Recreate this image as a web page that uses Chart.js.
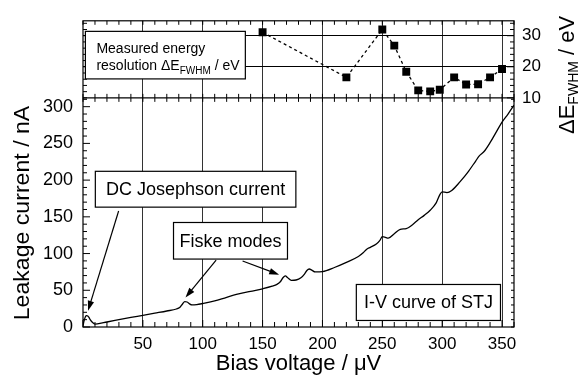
<!DOCTYPE html>
<html><head><meta charset="utf-8">
<script src="https://cdn.jsdelivr.net/npm/chart.js@4/dist/chart.umd.min.js"></script>
<style>html,body{margin:0;padding:0;background:#fff;overflow:hidden}canvas{display:block}</style>
</head><body>
<canvas id="c" width="583" height="375" style="width:583px;height:375px"></canvas>
<script>
// ---- data ----
const ivVoltage = [0, 1, 2, 3, 4, 5, 6, 8, 10, 12, 20, 30, 40, 50, 60, 70, 78, 81, 83, 85, 87, 89, 91, 95, 100, 110, 120, 130, 140, 150, 158, 162, 165, 167, 169, 171, 174, 178, 182, 185, 187, 189, 191, 194, 200, 210, 220, 230, 234, 237, 240, 245, 248, 250, 252, 255, 260, 265, 270, 275, 280, 285, 290, 295, 298, 300, 304, 308, 315, 322, 328, 331, 335, 340, 345, 350, 355, 360];
const ivCurrent = [2, 9, 14, 15.5, 15, 13, 10, 6, 4, 4.2, 6.8, 9.9, 13, 15.8, 18.8, 21.8, 24.5, 27, 31, 34.5, 34, 31.5, 30, 30.5, 32, 35.5, 40.5, 45, 48.5, 52, 55.5, 58, 62, 67, 69.5, 67, 63.5, 64, 67, 72, 77, 79, 77.5, 75, 75.5, 81, 88, 96, 101, 106, 108.5, 113, 118, 123, 122.5, 121, 127, 133, 134, 139, 146, 152, 159, 169, 180, 184, 183, 186, 198, 212, 226, 233, 239, 251, 265, 279, 290, 302];
const resVoltage = [150, 220, 250, 260, 270, 280, 290, 298, 310, 320, 330, 340, 350];
const resEnergy = [31.1, 16.6, 32.0, 26.8, 18.4, 12.4, 12.1, 12.6, 16.6, 14.3, 14.4, 16.6, 19.3];
const xTicks = [0, 50, 100, 150, 200, 250, 300, 350];
const leftTicks = [0, 50, 100, 150, 200, 250, 300];
const rightTicks = [10, 20, 30];

// ---- axis ranges ----
const X_MAX = 360;
const I_MAX = 312;            // top of lower panel (nA)
const E_MIN = 10, E_MAX = 34.8; // upper panel range (eV)
const BOTTOM_FRAC = 234 / 312.7;
const LEFT_MAX = I_MAX / BOTTOM_FRAC;
const RIGHT_MIN = E_MIN - (E_MAX - E_MIN) * BOTTOM_FRAC / (1 - BOTTOM_FRAC);
const FONT = "'Liberation Sans', Arial, Helvetica, sans-serif";
Chart.defaults.font.family = FONT;
Chart.defaults.color = '#000';

const boxes = [
  {text: 'DC Josephson current', x1: 10.3, x2: 177.8, y1: 212, y2: 163.2},
  {text: 'Fiske modes', x1: 75.6, x2: 170.8, y1: 142.3, y2: 92.5},
  {text: 'I-V curve of STJ', x1: 228.3, x2: 348.7, y1: 57.9, y2: 8.9}
];
const arrows = [
  [29.75, 158, 4.2, 22],
  [111.2, 91.2, 85.6, 40],
  [133.3, 89.9, 163.9, 71.2]
];
const resBox = {x1: 2, x2: 135.6, y1: 31.4, y2: 16.1};

function arrow(ctx, x1, y1, x2, y2) {
  const a = Math.atan2(y2 - y1, x2 - x1), L = 10, W = 3.2;
  ctx.beginPath();
  ctx.moveTo(x1, y1);
  ctx.lineTo(x2 - L * 0.8 * Math.cos(a), y2 - L * 0.8 * Math.sin(a));
  ctx.stroke();
  ctx.beginPath();
  ctx.moveTo(x2, y2);
  ctx.lineTo(x2 - L * Math.cos(a) + W * Math.sin(a), y2 - L * Math.sin(a) - W * Math.cos(a));
  ctx.lineTo(x2 - L * Math.cos(a) - W * Math.sin(a), y2 - L * Math.sin(a) + W * Math.cos(a));
  ctx.closePath();
  ctx.fill();
}

const framePlugin = {
  id: 'frame',
  afterDatasetsDraw(chart) {
    const ctx = chart.ctx, a = chart.chartArea;
    const sx = chart.scales.x, sy = chart.scales.y, sr = chart.scales.yR;
    const yd = sr.getPixelForValue(E_MIN);
    ctx.save();
    ctx.strokeStyle = '#000'; ctx.fillStyle = '#000'; ctx.lineWidth = 1.2;
    ctx.strokeRect(a.left, a.top, a.right - a.left, a.bottom - a.top);
    ctx.beginPath(); ctx.moveTo(a.left, yd); ctx.lineTo(a.right, yd); ctx.stroke();
    ctx.lineWidth = 1;
    ctx.beginPath();
    for (let v = 0; v <= X_MAX; v += 10) {
      const px = sx.getPixelForValue(v);
      const maj = v % 50 === 0;
      ctx.moveTo(px, a.bottom); ctx.lineTo(px, a.bottom - (maj ? 7 : 5));
      ctx.moveTo(px, yd); ctx.lineTo(px, yd + 4);
      ctx.moveTo(px, yd); ctx.lineTo(px, yd - 4);
      ctx.moveTo(px, a.top); ctx.lineTo(px, a.top + 4);
    }
    for (let v = 0; v <= I_MAX; v += 10) {
      const py = sy.getPixelForValue(v);
      const maj = v % 50 === 0;
      ctx.moveTo(a.left, py); ctx.lineTo(a.left + (maj ? 7 : 4), py);
      ctx.moveTo(a.right, py); ctx.lineTo(a.right - 3, py);
    }
    for (let v = E_MIN; v <= E_MAX; v += 2) {
      const py = sr.getPixelForValue(v);
      const maj = v % 10 === 0;
      ctx.moveTo(a.left, py); ctx.lineTo(a.left + 4, py);
      ctx.moveTo(a.right, py); ctx.lineTo(a.right - (maj ? 7 : 4), py);
    }
    ctx.stroke();

    ctx.lineWidth = 1.2;
    ctx.textAlign = 'center'; ctx.textBaseline = 'middle';
    ctx.font = '18px ' + FONT;
    boxes.forEach(b => {
      const x1 = sx.getPixelForValue(b.x1), x2 = sx.getPixelForValue(b.x2);
      const y1 = sy.getPixelForValue(b.y1), y2 = sy.getPixelForValue(b.y2);
      ctx.fillStyle = '#fff'; ctx.fillRect(x1, y1, x2 - x1, y2 - y1);
      ctx.strokeRect(x1, y1, x2 - x1, y2 - y1);
      ctx.fillStyle = '#000';
      ctx.fillText(b.text, (x1 + x2) / 2, (y1 + y2) / 2 + 1);
    });
    arrows.forEach(r => arrow(ctx, sx.getPixelForValue(r[0]), sy.getPixelForValue(r[1]), sx.getPixelForValue(r[2]), sy.getPixelForValue(r[3])));

    {
      const x1 = sx.getPixelForValue(resBox.x1), x2 = sx.getPixelForValue(resBox.x2);
      const y1 = sr.getPixelForValue(resBox.y1), y2 = sr.getPixelForValue(resBox.y2);
      ctx.fillStyle = '#fff'; ctx.fillRect(x1, y1, x2 - x1, y2 - y1);
      ctx.strokeRect(x1, y1, x2 - x1, y2 - y1);
      ctx.fillStyle = '#000';
      ctx.textAlign = 'left'; ctx.textBaseline = 'alphabetic';
      ctx.font = '14px ' + FONT;
      const tx = x1 + 11;
      ctx.fillText('Measured energy', tx, y1 + 21.5);
      ctx.fillText('resolution \u0394E', tx, y1 + 38.5);
      let w = ctx.measureText('resolution \u0394E').width;
      ctx.font = '10px ' + FONT;
      ctx.fillText('FWHM', tx + w, y1 + 42.5);
      w += ctx.measureText('FWHM').width;
      ctx.font = '14px ' + FONT;
      ctx.fillText(' / eV', tx + w, y1 + 38.5);
    }
    ctx.restore();
  },
  afterDraw(chart) {
    const ctx = chart.ctx, a = chart.chartArea;
    ctx.save();
    ctx.fillStyle = '#000';
    ctx.font = '22px ' + FONT;
    ctx.textAlign = 'center'; ctx.textBaseline = 'alphabetic';
    ctx.fillText('Bias voltage / \u03bcV', (a.left + a.right) / 2, 370);
    ctx.save();
    ctx.translate(29, 213); ctx.rotate(-Math.PI / 2); ctx.scale(1.05, 1);
    ctx.fillText('Leakage current / nA', 0, 0);
    ctx.restore();
    ctx.save();
    ctx.translate(574, 134); ctx.rotate(-Math.PI / 2);
    ctx.textAlign = 'left';
    ctx.font = '22px ' + FONT;
    ctx.fillText('\u0394E', 0, 0);
    let w = ctx.measureText('\u0394E').width;
    ctx.font = '14px ' + FONT;
    ctx.fillText('FWHM', w, 4);
    w += ctx.measureText('FWHM').width;
    ctx.font = '22px ' + FONT;
    ctx.fillText(' / eV', w, 0);
    ctx.restore();
    ctx.restore();
  }
};

new Chart(document.getElementById('c'), {
  type: 'line',
  data: {
    datasets: [
      {
        label: 'I-V curve',
        data: ivVoltage.map((v, i) => ({x: v, y: ivCurrent[i]})),
        xAxisID: 'x', yAxisID: 'y',
        borderColor: '#000', borderWidth: 1.3, pointRadius: 0,
        cubicInterpolationMode: 'monotone', fill: false
      },
      {
        label: 'Energy resolution',
        data: resVoltage.map((v, i) => ({x: v, y: resEnergy[i]})),
        xAxisID: 'x', yAxisID: 'yR',
        borderColor: '#000', borderWidth: 1.3, borderDash: [3, 3],
        pointStyle: 'rect', pointRadius: 5.6,
        pointBackgroundColor: '#000', pointBorderColor: '#000', pointBorderWidth: 0,
        tension: 0, fill: false
      }
    ]
  },
  options: {
    responsive: false, animation: false, devicePixelRatio: 1,
    layout: {padding: {top: 14, left: 0, right: 0, bottom: 0}},
    plugins: {legend: {display: false}, tooltip: {enabled: false}},
    scales: {
      x: {
        type: 'linear', min: 0, max: X_MAX,
        afterBuildTicks: s => { s.ticks = xTicks.map(v => ({value: v})); },
        afterFit: s => { s.height = 48; },
        ticks: {callback: v => v === 0 ? '' : String(v), font: {size: 17}, color: '#000', padding: 7, maxRotation: 0, autoSkip: false},
        grid: {drawTicks: false, lineWidth: 1, color: c => (c.tick && c.tick.value === 0) ? 'rgba(0,0,0,0)' : '#333'},
        border: {display: false}
      },
      y: {
        type: 'linear', position: 'left', min: 0, max: LEFT_MAX,
        afterBuildTicks: s => { s.ticks = leftTicks.map(v => ({value: v})); },
        afterFit: s => { s.width = 83; },
        ticks: {font: {size: 18}, color: '#000', padding: 10, autoSkip: false},
        grid: {display: false, drawTicks: false},
        border: {display: false}
      },
      yR: {
        type: 'linear', position: 'right', min: RIGHT_MIN, max: E_MAX,
        afterBuildTicks: s => { s.ticks = rightTicks.map(v => ({value: v})); },
        afterFit: s => { s.width = 69; },
        ticks: {font: {size: 17}, color: '#000', padding: 8, autoSkip: false},
        grid: {drawTicks: false, lineWidth: 1, color: c => (c.tick && c.tick.value === E_MIN) ? 'rgba(0,0,0,0)' : '#000'},
        border: {display: false}
      }
    }
  },
  plugins: [framePlugin]
});
</script>
</body></html>
